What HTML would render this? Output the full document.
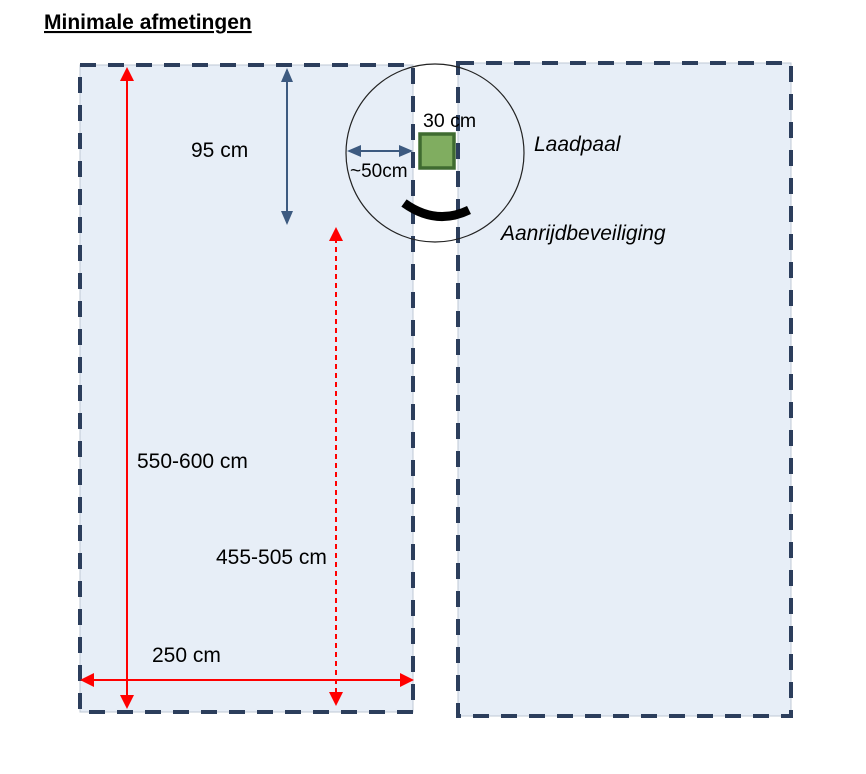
<!DOCTYPE html>
<html><head><style>body{margin:0;background:#fff}svg{display:block}</style></head><body>
<svg width="866" height="774" xmlns="http://www.w3.org/2000/svg" font-family="Liberation Sans, Arial, sans-serif">
<defs>
<marker id="r" markerWidth="14" markerHeight="14" refX="12" refY="7" orient="auto-start-reverse" markerUnits="userSpaceOnUse"><path d="M0,0 L14,7 L0,14 z" fill="#f00"/></marker>
<marker id="b" markerWidth="14" markerHeight="12" refX="12" refY="6" orient="auto-start-reverse" markerUnits="userSpaceOnUse"><path d="M0,0 L14,6 L0,12 z" fill="#3d5a80"/></marker>
</defs>
<text x="44" y="29" font-size="21" font-weight="bold" text-decoration="underline">Minimale afmetingen</text>
<rect x="80" y="65" width="333" height="647" fill="#e7eef7" stroke="#bfc8d4" stroke-width="1"/>
<rect x="80" y="65" width="333" height="647" fill="none" stroke="#2c3e5c" stroke-width="4" stroke-dasharray="16,12"/>
<rect x="458" y="63" width="333" height="653" fill="#e7eef7" stroke="#bfc8d4" stroke-width="1"/>
<rect x="458" y="63" width="333" height="653" fill="none" stroke="#2c3e5c" stroke-width="4" stroke-dasharray="16,12"/>
<circle cx="435" cy="153" r="89" fill="none" stroke="#222" stroke-width="1.2"/>
<rect x="420" y="134" width="34" height="34" fill="#80ad60" stroke="#3f6b30" stroke-width="3.5"/>
<path d="M404,203 Q436,226 469,210" fill="none" stroke="#000" stroke-width="9"/>
<line x1="349" y1="151" x2="411" y2="151" stroke="#3d5a80" stroke-width="2" marker-start="url(#b)" marker-end="url(#b)"/>
<line x1="287" y1="70" x2="287" y2="223" stroke="#3d5a80" stroke-width="2" marker-start="url(#b)" marker-end="url(#b)"/>
<line x1="127" y1="69" x2="127" y2="707" stroke="#f00" stroke-width="2" marker-start="url(#r)" marker-end="url(#r)"/>
<line x1="336" y1="229" x2="336" y2="704" stroke="#f00" stroke-width="2" stroke-dasharray="5,4" marker-start="url(#r)" marker-end="url(#r)"/>
<line x1="82" y1="680" x2="412" y2="680" stroke="#f00" stroke-width="2" marker-start="url(#r)" marker-end="url(#r)"/>
<g font-size="21" fill="#000">
<text x="191" y="157">95 cm</text>
<text x="423" y="127" font-size="19.5">30 cm</text>
<text x="350" y="177" font-size="19">~50cm</text>
<text x="534" y="151" font-style="italic">Laadpaal</text>
<text x="501" y="240" font-style="italic">Aanrijdbeveiliging</text>
<text x="137" y="468">550-600 cm</text>
<text x="216" y="564">455-505 cm</text>
<text x="152" y="662">250 cm</text>
</g>
</svg>
</body></html>
